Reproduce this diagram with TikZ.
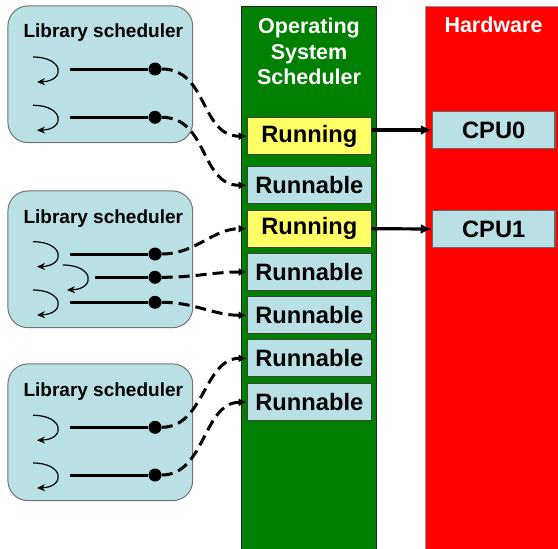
\documentclass[tikz,border=0pt]{standalone}
\usepackage{fontspec}
\setmainfont{Liberation Sans}
\usetikzlibrary{arrows.meta}
\definecolor{libblue}{RGB}{185,224,228}
\definecolor{osgreen}{RGB}{0,128,0}
\definecolor{hwred}{RGB}{255,0,0}
\definecolor{runyellow}{RGB}{255,255,102}
\tikzset{
  libbox/.style={draw=black!55, line width=1pt, fill=libblue, rounded corners=20pt, minimum width=184.7pt, minimum height=136.7pt, inner sep=0pt},
  libtitle/.style={font=\fontsize{19}{22}\selectfont\bfseries, inner sep=0pt},
  coltitle/.style={font=\fontsize{21.5}{25.5}\selectfont\bfseries, text=white, align=center, inner sep=0pt},
  statebox/.style={draw=black!75, line width=1.2pt, minimum width=124pt, minimum height=37pt, inner sep=0pt, font=\fontsize{23.7}{28}\selectfont\bfseries},
  runbox/.style={statebox, fill=runyellow},
  rblbox/.style={statebox, fill=libblue},
  cpubox/.style={statebox, fill=libblue, minimum width=122.7pt, minimum height=36.7pt, draw=black!60},
  tdot/.style={circle, fill=black, inner sep=0pt, minimum size=13pt},
  thread/.style={line width=3pt},
  curv/.style={line width=1.2pt, -{Stealth[length=8pt,width=7pt]}},
  dconn/.style={line width=3pt, dash pattern=on 11pt off 6pt, -{Latex[length=8pt,width=8pt]}},
  hwarrow/.style={line width=3.2pt, -{Latex[length=11pt,width=10pt]}},
}
\begin{document}
\begin{tikzpicture}[x=1pt,y=-1pt]
\useasboundingbox (0,0) rectangle (558,549);
% columns
\path[draw=black!85, line width=1pt, fill=osgreen] (241.7,6) rectangle (376.7,560);
\path[draw=black!40, line width=1pt, fill=hwred] (425.7,6) rectangle (570,560);
\node[coltitle] (ostitle) at (309,51.5) {Operating\\System\\Scheduler};
\node[coltitle] (hwtitle) at (493.5,25) {Hardware};
% state boxes
\node[runbox] (run1) at (309.3,136.2) {Running};
\node[rblbox] (rbl1) at (309.3,185.3) {Runnable};
\node[runbox] (run2) at (309.3,228.7) {Running};
\node[rblbox] (rbl2) at (309.3,272) {Runnable};
\node[rblbox] (rbl3) at (309.3,315.3) {Runnable};
\node[rblbox] (rbl4) at (309.3,358.3) {Runnable};
\node[rblbox] (rbl5) at (309.3,402.3) {Runnable};
\node[cpubox] (cpu0) at (493.7,130) {CPU0};
\node[cpubox] (cpu1) at (493.7,229) {CPU1};
\draw[hwarrow] (run1.east |- cpu0.west) -- (cpu0.west);
\draw[hwarrow] (run2.east) -- (cpu1.west);
% library boxes
\node[libbox] (lib1) at (100.3,74.3) {};
\node[libbox] (lib2) at (100.3,259.3) {};
\node[libbox] (lib3) at (100.3,432.3) {};
\node[libtitle] (lt1) at (103.3,33) {Library scheduler};
\node[libtitle] (lt2) at (103.3,218.3) {Library scheduler};
\node[libtitle] (lt3) at (103.3,391.7) {Library scheduler};
% threads, box 1
\node[tdot] (d11) at (155,69) {};
\node[tdot] (d12) at (155,117.3) {};
\coordinate (s11) at (70,69);
\coordinate (s12) at (70,117.3);
\draw[thread] (s11) -- (d11);
\draw[thread] (s12) -- (d12);
\draw[curv] (33,57) .. controls (64,57) and (66,81) .. (37,82);
\draw[curv] (33,105.3) .. controls (64,105.3) and (66,129.3) .. (37,130.3);
% threads, box 2
\node[tdot] (d21) at (155,254) {};
\node[tdot] (d22) at (155,277.3) {};
\node[tdot] (d23) at (155,302.3) {};
\coordinate (s21) at (70,254);
\coordinate (s22) at (95,277.3);
\coordinate (s23) at (70,302.3);
\draw[thread] (s21) -- (d21);
\draw[thread] (s22) -- (d22);
\draw[thread] (s23) -- (d23);
\draw[curv] (33,241.7) .. controls (64,241.7) and (66,265.7) .. (37,266.7);
\draw[curv] (63,265) .. controls (94,265) and (96,289) .. (67,290);
\draw[curv] (33,290) .. controls (64,290) and (66,314) .. (37,315);
% threads, box 3
\node[tdot] (d31) at (155,427.3) {};
\node[tdot] (d32) at (155,475) {};
\coordinate (s31) at (70,427.3);
\coordinate (s32) at (70,475);
\draw[thread] (s31) -- (d31);
\draw[thread] (s32) -- (d32);
\draw[curv] (33,415.3) .. controls (64,415.3) and (66,439.3) .. (37,440.3);
\draw[curv] (33,463) .. controls (64,463) and (66,487) .. (37,488);
% dashed connectors
\draw[dconn] (d11) to[out=0,in=180,looseness=1.1] (run1.west);
\draw[dconn] (d12) to[out=0,in=180,looseness=1.1] (rbl1.west);
\draw[dconn] (d21) to[out=0,in=180] (run2.west);
\draw[dconn] (d22) to[out=0,in=180] (rbl2.west);
\draw[dconn] (d23) to[out=0,in=180] (rbl3.west);
\draw[dconn] (d31) to[out=0,in=180] (rbl4.west);
\draw[dconn] (d32) to[out=0,in=180] (rbl5.west);
\end{tikzpicture}
\end{document}
